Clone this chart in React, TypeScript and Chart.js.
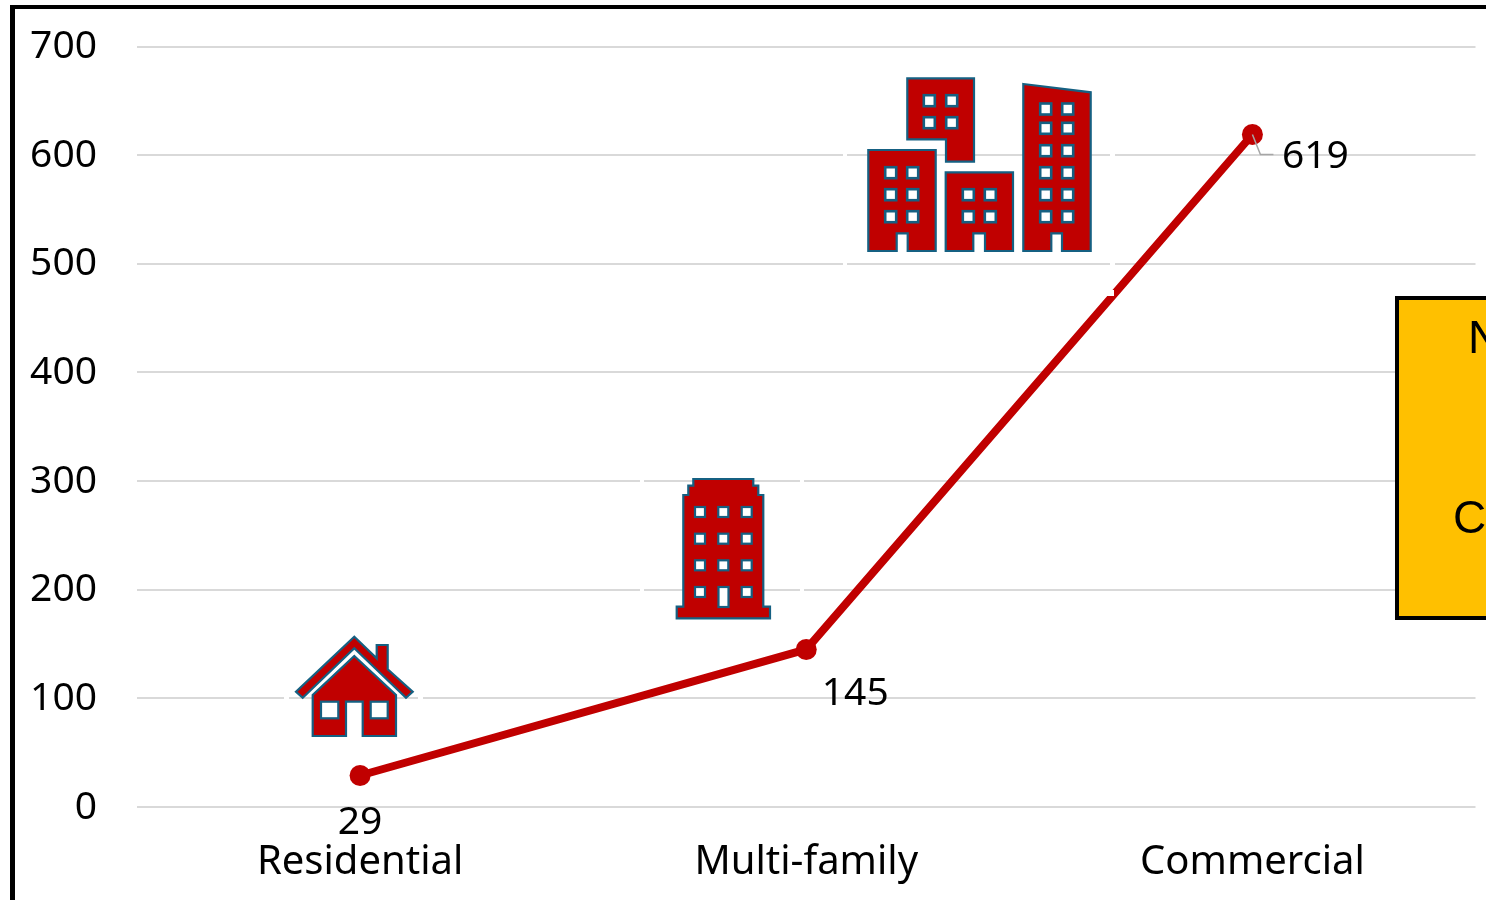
import React, { useEffect, useRef } from "react";
import { Chart, registerables } from "chart.js";

Chart.register(...registerables);

const categories = ["Residential", "Multi-family", "Commercial"];
const completions = [29, 145, 619];
const yTicks = [0, 100, 200, 300, 400, 500, 600, 700];

const FONT = '"Noto Sans", sans-serif';
const RED = "#C00000";
const OUTLINE = "#156082";
const GRID = "#D9D9D9";

type Pt = [number, number];

// Pictogram outlines, in canvas pixels.
const houseRoof: Pt[] = [[354.3, 636.7], [376.7, 658.3], [376.7, 645], [387.7, 645], [387.7, 669.3], [412.7, 691.7], [406, 697.7], [354.3, 648.3], [302.7, 697.7], [296, 691.7]];
const houseBody: Pt[] = [[354.3, 656], [396, 695], [396, 736], [362.7, 736], [362.7, 701.7], [346, 701.7], [346, 736], [312.7, 736], [312.7, 695]];
const tower: Pt[] = [[693.3, 479], [753.3, 479], [753.3, 485.7], [758.3, 485.7], [758.3, 495], [763.3, 495], [763.3, 606.7], [770, 606.7], [770, 618.3], [676.7, 618.3], [676.7, 606.7], [683.3, 606.7], [683.3, 495], [688.3, 495], [688.3, 485.7], [693.3, 485.7]];
const officeTop: Pt[] = [[907.3, 78.3], [974, 78.3], [974, 161.7], [946, 161.7], [946, 139.3], [907.3, 139.3]];
const officeLeft: Pt[] = [[868.3, 150], [935.7, 150], [935.7, 251], [907.7, 251], [907.7, 233.3], [896.7, 233.3], [896.7, 251], [868.3, 251]];
const officeMid: Pt[] = [[945.7, 172.3], [1013, 172.3], [1013, 251], [985, 251], [985, 233.3], [973.3, 233.3], [973.3, 251], [945.7, 251]];
const officeRight: Pt[] = [[1023.3, 84], [1090.7, 92.3], [1090.7, 251], [1062, 251], [1062, 233.3], [1051.3, 233.3], [1051.3, 251], [1023.3, 251]];

function grid(xs: number[], ys: number[]): Pt[] {
  return xs.flatMap((x) => ys.map((y): Pt => [x, y]));
}

const towerWindows = grid([700, 723.3, 746.7], [512, 538.7, 565.3]).concat([[700, 592], [746.7, 592]]);
const officeWindows = [
  ...grid([929.3, 951.7], [100.7, 122.7]),
  ...grid([890.7, 912.7], [172.7, 194.7, 216.7]),
  ...grid([968.3, 990.3], [194.7, 216.7]),
  ...grid([1045.7, 1067.7], [109, 128.3, 150.7, 172.7, 194.7, 216.7]),
];

function tracePolygon(ctx: CanvasRenderingContext2D, pts: Pt[]) {
  ctx.beginPath();
  pts.forEach(([x, y], i) => (i ? ctx.lineTo(x, y) : ctx.moveTo(x, y)));
  ctx.closePath();
}

function drawShape(ctx: CanvasRenderingContext2D, pts: Pt[]) {
  tracePolygon(ctx, pts);
  ctx.fillStyle = RED;
  ctx.fill();
  ctx.strokeStyle = OUTLINE;
  ctx.lineWidth = 2.2;
  ctx.lineJoin = "miter";
  ctx.stroke();
}

function drawPane(ctx: CanvasRenderingContext2D, x: number, y: number, w: number, h: number, lw = 2.2) {
  ctx.fillStyle = "#FFFFFF";
  ctx.fillRect(x, y, w, h);
  ctx.strokeStyle = OUTLINE;
  ctx.lineWidth = lw;
  ctx.strokeRect(x, y, w, h);
}

const pictograms = {
  id: "pictograms",
  beforeDatasetsDraw(chart: Chart) {
    const { ctx, scales } = chart;
    ctx.save();
    // Pictures carry a thin white margin that interrupts the gridlines.
    ctx.fillStyle = "#FFFFFF";
    const gaps: [number, number, number[]][] = [
      [284, 5, [100]], [418, 5, [100]],
      [640, 4, [200, 300]], [800, 4, [200, 300]],
      [843, 4, [500, 600]], [1110, 5, [500, 600]],
    ];
    gaps.forEach(([x, w, vals]) =>
      vals.forEach((v) => ctx.fillRect(x, scales.y.getPixelForValue(v) - 2, w, 4))
    );

    drawShape(ctx, houseRoof);
    drawShape(ctx, houseBody);
    drawPane(ctx, 321, 701.7, 17.3, 16.6);
    drawPane(ctx, 370.7, 701.7, 17, 16.6);

    drawShape(ctx, tower);
    towerWindows.forEach(([x, y]) => drawPane(ctx, x - 5, y - 5, 10, 10));
    drawPane(ctx, 718.5, 587, 10, 20);

    [officeTop, officeLeft, officeMid, officeRight].forEach((s) => drawShape(ctx, s));
    officeWindows.forEach(([x, y]) => drawPane(ctx, x - 5.5, y - 5.5, 11, 11, 2.6));
    ctx.restore();
  },
  afterDatasetsDraw(chart: Chart) {
    const { ctx } = chart;
    const pts = chart.getDatasetMeta(0).data;
    ctx.save();

    // Corner of the tower picture's margin clips the line where they cross.
    ctx.fillStyle = "#FFFFFF";
    ctx.fillRect(1105, 290, 9, 6);

    // Leader line of the last value label.
    const last = pts[2];
    ctx.strokeStyle = "#A6A6A6";
    ctx.lineWidth = 1.5;
    ctx.beginPath();
    ctx.moveTo(last.x, last.y);
    ctx.lineTo(last.x + 8, last.y + 20);
    ctx.lineTo(last.x + 21, last.y + 20);
    ctx.stroke();

    // Value labels, placed relative to their points.
    ctx.fillStyle = "#000000";
    ctx.font = `39px ${FONT}`;
    ctx.textAlign = "center";
    ctx.textBaseline = "middle";
    const offsets: Pt[] = [[0, 47], [49, 44], [63, 22.5]];
    completions.forEach((v, i) => {
      ctx.fillText(String(v), pts[i].x + offsets[i][0], pts[i].y + offsets[i][1]);
    });
    ctx.restore();
  },
  afterDraw(chart: Chart) {
    const { ctx } = chart;
    ctx.save();
    // Outer frame of the chart object: only its top and left edges are on the page.
    ctx.fillStyle = "#000000";
    ctx.fillRect(10, 5, 1476, 4);
    ctx.fillRect(10, 5, 5, 895);

    // Note box running off the right side of the page.
    ctx.fillStyle = "#FFC000";
    ctx.fillRect(1397, 298, 95, 320);
    ctx.strokeStyle = "#000000";
    ctx.lineWidth = 4;
    ctx.strokeRect(1397, 298, 95, 320);
    ctx.fillStyle = "#000000";
    ctx.font = '46px "Liberation Sans", sans-serif';
    ctx.textAlign = "left";
    ctx.textBaseline = "alphabetic";
    ctx.fillText("N", 1468, 353);
    ctx.fillText("C", 1453, 533);
    ctx.restore();
  },
};

export default function App() {
  const ref = useRef<HTMLCanvasElement>(null);

  useEffect(() => {
    const chart = new Chart(ref.current!, {
      type: "line",
      data: {
        labels: categories,
        datasets: [
          {
            data: completions,
            borderColor: RED,
            backgroundColor: RED,
            borderWidth: 8,
            tension: 0,
            pointRadius: 10.5,
            pointBackgroundColor: RED,
            pointBorderWidth: 0,
            borderCapStyle: "round",
          },
        ],
      },
      options: {
        animation: false,
        responsive: false,
        layout: { padding: { left: 0, top: 46.5, right: 10, bottom: 0 } },
        plugins: { legend: { display: false }, tooltip: { enabled: false }, title: { display: false } },
        scales: {
          x: {
            offset: true,
            grid: { display: false, offset: false },
            border: { display: false },
            ticks: {
              color: "#000000",
              font: { family: FONT, size: 40 },
              padding: 24,
              maxRotation: 0,
            },
            afterFit(scale: any) {
              scale.height = 93;
            },
          },
          y: {
            min: 0,
            max: 700,
            afterBuildTicks(scale: any) {
              scale.ticks = yTicks.map((value) => ({ value }));
            },
            grid: { color: GRID, lineWidth: 2, drawTicks: false },
            border: { display: false },
            ticks: {
              color: "#000000",
              font: { family: FONT, size: 39 },
              padding: 40,
              labelOffset: 0.5,
            },
            afterFit(scale: any) {
              scale.width = 137;
              scale.paddingTop = 0;
              scale.paddingBottom = 0;
            },
          },
        },
      },
      plugins: [pictograms],
    } as any);
    return () => chart.destroy();
  }, []);

  return (
    <canvas
      ref={ref}
      width={1486}
      height={900}
      style={{ position: "absolute", left: 0, top: 0, display: "block", width: 1486, height: 900 }}
    />
  );
}
